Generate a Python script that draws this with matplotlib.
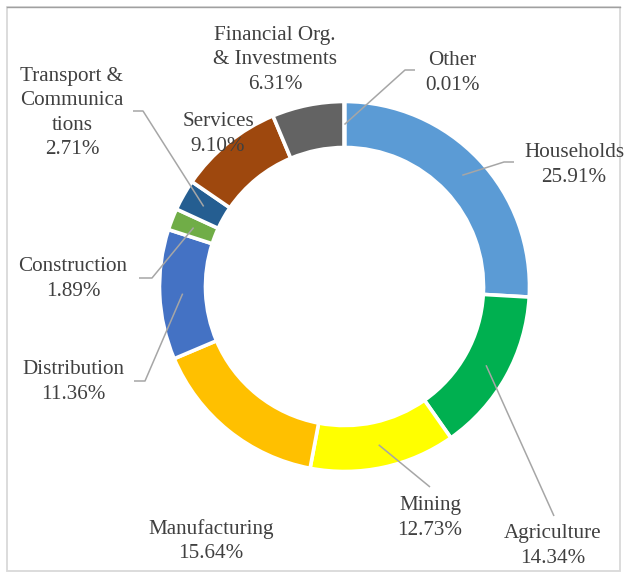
import matplotlib
matplotlib.use("Agg")
import matplotlib.pyplot as plt
from matplotlib.patches import Rectangle
import numpy as np

# ---- data ----
categories = ["Households", "Agriculture", "Mining", "Manufacturing", "Distribution",
              "Construction", "Transport &\nCommunica\ntions", "Services",
              "Financial Org.\n& Investments", "Other"]
shares = [25.91, 14.34, 12.73, 15.64, 11.36, 1.89, 2.71, 9.10, 6.31, 0.01]
pct_labels = ["25.91%", "14.34%", "12.73%", "15.64%", "11.36%", "1.89%", "2.71%",
              "9.10%", "6.31%", "0.01%"]
colors = ["#5B9BD5", "#00B050", "#FFFF00", "#FFC000", "#4472C4", "#70AD47",
          "#255E91", "#9E480E", "#636363", "#A5A5A5"]

# ---- layout (pixel coordinates, y downward) ----
W, H = 626, 573
label_pos = [(574, 165), (553, 546), (430, 518), (211, 541), (73, 382),
             (73, 279), (72, 113), (218, 134), (275, 60), (452, 73)]
# label-side points of leader lines (None = no leader)
leaders = [[(514, 162), (504, 162)], [(554, 516)], [(430, 487)], None,
           [(134, 381), (145, 381)], [(139, 278), (152, 278)],
           [(133, 111), (143, 111)], None, None, [(415, 70), (405, 70)]]

def P(x, y):
    return (x, H - y)

fig = plt.figure(figsize=(W / 100, H / 100), dpi=100)
ax = fig.add_axes([0, 0, 1, 1])

cxp, cyp = 344.5, 286.5
cx, cy = P(cxp, cyp)
R = 185.0
ring = 46.0
wedges, _ = ax.pie(shares, colors=colors, startangle=90, counterclock=False,
                   center=(cx, cy), radius=R, frame=True,
                   wedgeprops=dict(width=ring, edgecolor="white", linewidth=2.6))

ax.set_xlim(0, W)
ax.set_ylim(0, H)
ax.set_aspect("equal")
ax.axis("off")

text_color = "#404040"
line_color = "#A6A6A6"
r_anchor = 162.0
for w, cat, pct, pos, ld in zip(wedges, categories, pct_labels, label_pos, leaders):
    ax.text(*P(*pos), f"{cat}\n{pct}", ha="center", va="center",
            fontsize=15.2, family="Liberation Serif", color=text_color,
            linespacing=1.38, zorder=5)
    if ld is not None:
        mid = np.deg2rad((w.theta1 + w.theta2) / 2)
        ax_ = cx + r_anchor * np.cos(mid)
        ay_ = cy + r_anchor * np.sin(mid)
        pts = [P(*p) for p in ld] + [(ax_, ay_)]
        xs, ys = zip(*pts)
        ax.plot(xs, ys, color=line_color, lw=1.1, zorder=4, solid_capstyle="butt")

# chart frame
x0, y0 = P(7, 571)
ax.add_patch(Rectangle((x0, y0), 620 - 7, 571 - 7, fill=False,
                       edgecolor="#D9D9D9", lw=1.3, zorder=1))
ax.plot([7, 620], [H - 7, H - 7], color="#A0A0A0", lw=1.0, zorder=2)

fig.savefig("out.png", dpi=100, facecolor="white")
